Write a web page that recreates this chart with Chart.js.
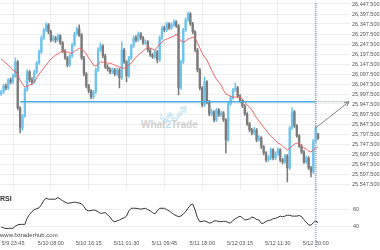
<!DOCTYPE html>
<html><head><meta charset="utf-8">
<script src="https://cdn.jsdelivr.net/npm/chart.js@4/dist/chart.umd.min.js"></script>
<style>
html,body{margin:0;padding:0;background:#fff;}
#wrap{position:relative;width:380px;height:250px;overflow:hidden;font-family:"Liberation Sans",Arial,sans-serif;}
canvas{position:absolute;left:0;}
#cMain{top:0;z-index:2;}
#cRsi{top:190px;z-index:2;}
.txt{position:absolute;white-space:nowrap;line-height:1;}
</style>
</head><body>
<div id="wrap">
  <svg class="txt" style="left:158px;top:105px;z-index:1" width="30" height="20" viewBox="0 0 30 20">
    <polyline points="2,12 7,18 12,10 17,17 27,4" fill="none" stroke="#c5e4f4" stroke-width="1.3"/>
    <polyline points="2,9 7,15 12,7 17,14 25,3" fill="none" stroke="#c5e4f4" stroke-width="1"/>
    <polyline points="22,3 28,2 27,8" fill="none" stroke="#c5e4f4" stroke-width="1.3"/>
  </svg>
  <div class="txt" style="left:141px;top:120px;font-weight:bold;font-size:10px;color:#d2d2d2;z-index:1">What<span style="color:#bfe2f4">2</span>Trade</div>
  <div class="txt" style="left:0px;top:195px;font-size:7px;font-weight:bold;color:#333;z-index:3">RSI</div>
  <div class="txt" style="left:0px;top:232px;font-size:6px;color:#444;z-index:3">www.fxtraderhub.com</div>
  <canvas id="cMain" width="380" height="190"></canvas>
  <canvas id="cRsi" width="380" height="60"></canvas>
</div>
<script>
const tickLabels = ['5/9 23:45','5/10 08:00','5/10 16:15','5/11 01:30','5/11 09:45','5/11 18:00','5/12 03:15','5/12 11:30','5/12 20:00'];
const priceTicks = [25547.5,25597.5,25647.5,25697.5,25747.5,25797.5,25847.5,25897.5,25947.5,25997.5,26047.5,26097.5,26147.5,26197.5,26247.5,26297.5,26347.5,26397.5,26447.5];
const rsiTicks = [40, 60];

const openP = [
25998,26008,26038,26028,26068,26058,26088,26158,25928,25828,
25888,26018,26108,26068,26058,26108,26153,26208,26278,26318,
26343,26308,26268,26278,26268,26288,26253,26213,26178,26143,
26188,26243,26298,26323,26293,26178,26098,26038,26013,25983,
26008,26118,26218,26238,26188,26133,26123,26108,26118,26098,
26118,26078,26218,26158,26088,26178,26238,26278,26268,26298,
26278,26253,26258,26218,26193,26183,26208,26168,26278,26328,
26318,26348,26328,26343,26358,26338,26028,26158,26318,26368,
26398,26348,26308,26218,26118,26028,25943,26058,25958,25898,
25908,25868,25918,25893,25903,25868,25768,25948,25978,26018,
26028,25988,25963,25938,25898,25848,25818,25803,25818,25768,
25778,25733,25703,25668,25678,25718,25678,25698,25718,25668,
25658,25688,25628,25828,25908,25838,25788,25738,25708,25658,
25678,25628,25608,25763,25798];
const highP = [
26016,26046,26048,26075,26078,26096,26178,26165,25935,25896,
26028,26118,26115,26080,26116,26160,26218,26288,26326,26353,
26350,26316,26290,26286,26298,26295,26260,26220,26185,26196,
26252,26306,26332,26343,26300,26186,26105,26046,26020,26016,
26126,26228,26253,26245,26196,26145,26130,26128,26126,26128,
26125,26258,26226,26165,26186,26246,26288,26290,26308,26305,
26286,26268,26265,26226,26200,26216,26215,26288,26336,26338,
26356,26355,26352,26368,26365,26345,26166,26326,26378,26408,
26405,26356,26315,26225,26126,26035,26083,26065,25966,25920,
25915,25926,25925,25912,25910,25875,25956,25986,26026,26053,
26036,25995,25970,25945,25905,25856,25826,25830,25825,25790,
25785,25740,25710,25690,25728,25725,25708,25728,25725,25676,
25696,25695,25836,25928,25915,25845,25795,25745,25715,25688,
25685,25636,25770,25838,25801];
const lowP = [
25990,26000,26018,26020,26048,26050,26080,25918,25803,25815,
25880,26010,26058,26045,26050,26100,26146,26200,26270,26310,
26298,26258,26260,26255,26262,26245,26203,26170,26133,26135,
26180,26236,26290,26285,26170,26088,26028,26003,25973,25975,
26000,26110,26210,26178,26125,26112,26098,26100,26088,26090,
26028,26070,26150,26058,26080,26170,26230,26258,26260,26270,
26245,26245,26208,26185,26175,26176,26153,26160,26270,26308,
26310,26320,26320,26335,26330,25993,26020,26150,26310,26360,
26340,26298,26208,26108,26018,25933,25935,25948,25888,25890,
25858,25860,25885,25885,25860,25703,25760,25940,25970,26010,
25980,25955,25930,25890,25840,25810,25793,25795,25758,25760,
25725,25693,25658,25660,25670,25668,25670,25690,25658,25648,
25650,25558,25620,25820,25830,25780,25730,25700,25650,25650,
25620,25583,25600,25755,25770];
const closeP = [
26008,26038,26028,26068,26058,26088,26158,25928,25828,25888,
26018,26108,26068,26058,26108,26153,26208,26278,26318,26343,
26308,26268,26278,26268,26288,26253,26213,26178,26143,26188,
26243,26298,26323,26293,26178,26098,26038,26013,25983,26008,
26118,26218,26238,26188,26133,26123,26108,26118,26098,26118,
26078,26218,26158,26088,26178,26238,26278,26268,26298,26278,
26253,26258,26218,26193,26183,26208,26168,26278,26328,26318,
26348,26328,26343,26358,26338,26028,26158,26318,26368,26398,
26348,26308,26218,26118,26028,25943,26058,25958,25898,25908,
25868,25918,25893,25903,25868,25768,25948,25978,26018,26028,
25988,25963,25938,25898,25848,25818,25803,25818,25768,25778,
25733,25703,25668,25678,25718,25678,25698,25718,25668,25658,
25688,25628,25828,25908,25838,25788,25738,25708,25658,25678,
25628,25608,25763,25828,25775];
const maP = [
26172,26162,26152,26142,26127,26117,26112,26092,26067,26047,
26032,26037,26042,26047,26057,26077,26097,26112,26127,26142,
26157,26172,26182,26192,26197,26207,26212,26207,26207,26202,
26202,26212,26217,26227,26222,26212,26197,26177,26162,26142,
26137,26147,26157,26157,26157,26152,26152,26147,26142,26137,
26132,26127,26127,26132,26142,26152,26167,26182,26192,26202,
26212,26222,26232,26227,26222,26217,26232,26247,26257,26267,
26272,26277,26282,26287,26297,26282,26262,26257,26262,26272,
26277,26282,26277,26252,26227,26202,26182,26167,26142,26117,
26092,26072,26057,26042,26017,25997,25992,25987,25982,25982,
25982,25982,25972,25957,25942,25932,25917,25897,25877,25862,
25847,25832,25817,25802,25787,25777,25767,25752,25747,25737,
25727,25717,25727,25737,25747,25752,25747,25737,25727,25722,
25712,25707,25717,25727,25732];
const rsiP = [
39.5,38.5,37.7,37.8,38,38,40.5,42,42.5,42.5,
42.5,49.7,54,57,59.5,60.5,61.5,65,70,72.5,
71.5,71.4,71.4,71.5,73.4,71.5,69.7,68,66.8,67,
67.5,68,67.5,67,66,63,59,58,58.5,59,
58.5,57,55,55.5,56,53.5,51,47,45.5,46.5,
47.5,49,50,52,58,61,61,61,60.5,60,
60.5,61,59.5,58,56,54.5,58,61,61,61,
59.5,58,56,54,52.5,51.5,52,54.5,57,61,
64.6,66,59,50,45.5,46,46.5,45.5,44,44.5,
46.5,46.5,45.8,45.5,46,46,44.5,44,47,49,
50.5,52,50,47.5,48,48.8,51,50,48,47.5,
43.6,44,46,47,47.5,49,49.5,50.5,52,51.2,
52,53,53,52,52,52,52.7,51.5,48,45,
42,41.5,44.5,46.5,44.5];
const levelValue = 25959;
const levelStart = 8;

// layout parameters
const FIRST_TICK = 5, TICK_EVERY = 16, SLOTS = 148;
const cats = Array.from({length: SLOTS}, () => '');
tickLabels.forEach((t, k) => { cats[FIRST_TICK + k * TICK_EVERY] = t; });
const tickSet = new Set(tickLabels.map((t, k) => FIRST_TICK + k * TICK_EVERY));
const signalIdx = FIRST_TICK + (tickLabels.length - 1) * TICK_EVERY;

const BLUE = '#6fc3ec', GRAY = '#7b7b7b';
const cols = closeP.map((c, i) => c >= openP[i] ? BLUE : GRAY);
const GRID = 'rgba(0,0,0,0.065)';
const FONT = {family: "'Liberation Sans', Arial, sans-serif", size: 5.5};

const noPad = s => { s.paddingTop = 0; s.paddingBottom = 0; s.paddingLeft = 0; s.paddingRight = 0; };

const vLine = (chart, yTop, yBot) => {
  const ctx = chart.ctx, xs = chart.scales.x.getPixelForValue(signalIdx);
  ctx.save();
  ctx.strokeStyle = 'rgba(150,165,180,0.85)';
  ctx.lineWidth = 2;
  ctx.setLineDash([1, 1]);
  ctx.beginPath(); ctx.moveTo(xs, yTop); ctx.lineTo(xs, yBot); ctx.stroke();
  ctx.restore();
};

const mainOverlay = {
  id: 'mainOverlay',
  afterDatasetsDraw(chart) {
    const {ctx, chartArea: a, scales: {x, y}} = chart;
    const ly = y.getPixelForValue(levelValue);
    const x0 = x.getPixelForValue(levelStart);
    const xs = x.getPixelForValue(signalIdx);
    ctx.save();
    ctx.strokeStyle = '#45ade0'; ctx.lineWidth = 1.6;
    ctx.beginPath(); ctx.moveTo(x0, ly); ctx.lineTo(xs, ly); ctx.stroke();
    ctx.setLineDash([1, 1]); ctx.strokeStyle = '#8896a3'; ctx.lineWidth = 1;
    ctx.beginPath(); ctx.moveTo(xs, ly); ctx.lineTo(a.right - 1, ly); ctx.stroke();
    ctx.restore();
    vLine(chart, a.top + 3, a.bottom);
    const ys = y.getPixelForValue(closeP[signalIdx]);
    const xe = a.right - 1;
    ctx.save();
    ctx.strokeStyle = '#666'; ctx.lineWidth = 0.8;
    ctx.beginPath(); ctx.moveTo(xs, ys); ctx.lineTo(xe, ly); ctx.stroke();
    const ang = Math.atan2(ly - ys, xe - xs), L = 5;
    ctx.beginPath();
    ctx.moveTo(xe - L * Math.cos(ang - 0.45), ly - L * Math.sin(ang - 0.45));
    ctx.lineTo(xe, ly);
    ctx.lineTo(xe - L * Math.cos(ang + 0.45), ly - L * Math.sin(ang + 0.45));
    ctx.stroke();
    ctx.restore();
  }
};

new Chart(document.getElementById('cMain'), {
  type: 'bar',
  data: {
    labels: cats,
    datasets: [
      {type: 'line', data: maP, borderColor: '#f06464', borderWidth: 1, pointRadius: 0, tension: 0, order: 0},
      {data: closeP.map((c, i) => [openP[i], c]), backgroundColor: cols, barThickness: 1.7, grouped: false, minBarLength: 1, order: 1},
      {data: highP.map((h, i) => [lowP[i], h]), backgroundColor: cols, barThickness: 0.9, grouped: false, order: 2}
    ]
  },
  options: {
    responsive: false, animation: false, devicePixelRatio: 1,
    layout: {padding: 0},
    plugins: {legend: {display: false}, tooltip: {enabled: false}},
    scales: {
      x: {
        type: 'category', offset: true,
        grid: {offset: false, drawTicks: false, color: c => tickSet.has(c.index) ? GRID : 'rgba(0,0,0,0)'},
        border: {display: false},
        ticks: {display: false, autoSkip: false},
        afterFit: s => { s.height = 0; noPad(s); }
      },
      y: {
        position: 'right', min: 25517.5, max: 26467.5,
        afterBuildTicks: s => { s.ticks = priceTicks.map(v => ({value: v})); },
        ticks: {font: FONT, color: '#555', padding: 2, autoSkip: false,
          callback: v => Number(v).toLocaleString('en-US', {minimumFractionDigits: 3, maximumFractionDigits: 3})},
        grid: {color: GRID, drawTicks: false},
        border: {display: false},
        afterFit: s => { s.width = 30; noPad(s); }
      }
    }
  },
  plugins: [mainOverlay]
});

const rsiOverlay = {
  id: 'rsiOverlay',
  afterDatasetsDraw(chart) { vLine(chart, chart.chartArea.top, chart.chartArea.bottom + 10); }
};

new Chart(document.getElementById('cRsi'), {
  type: 'line',
  data: {
    labels: cats,
    datasets: [{data: rsiP, borderColor: '#333', borderWidth: 1, pointRadius: 0, tension: 0}]
  },
  options: {
    responsive: false, animation: false, devicePixelRatio: 1,
    layout: {padding: 0},
    plugins: {legend: {display: false}, tooltip: {enabled: false}},
    scales: {
      x: {
        type: 'category', offset: true,
        grid: {display: false, drawTicks: false},
        border: {display: false},
        ticks: {font: FONT, color: '#555', padding: 3, autoSkip: false, maxRotation: 0, minRotation: 0,
          callback: (v, i) => cats[i]},
        afterFit: s => { s.height = 13; noPad(s); }
      },
      y: {
        position: 'right', min: 28, max: 82,
        afterBuildTicks: s => { s.ticks = rsiTicks.map(v => ({value: v})); },
        ticks: {font: FONT, color: '#555', padding: 3, autoSkip: false},
        grid: {color: GRID, drawTicks: false},
        border: {display: false},
        afterFit: s => { s.width = 30; noPad(s); }
      }
    }
  },
  plugins: [rsiOverlay]
});
</script>
</body></html>
